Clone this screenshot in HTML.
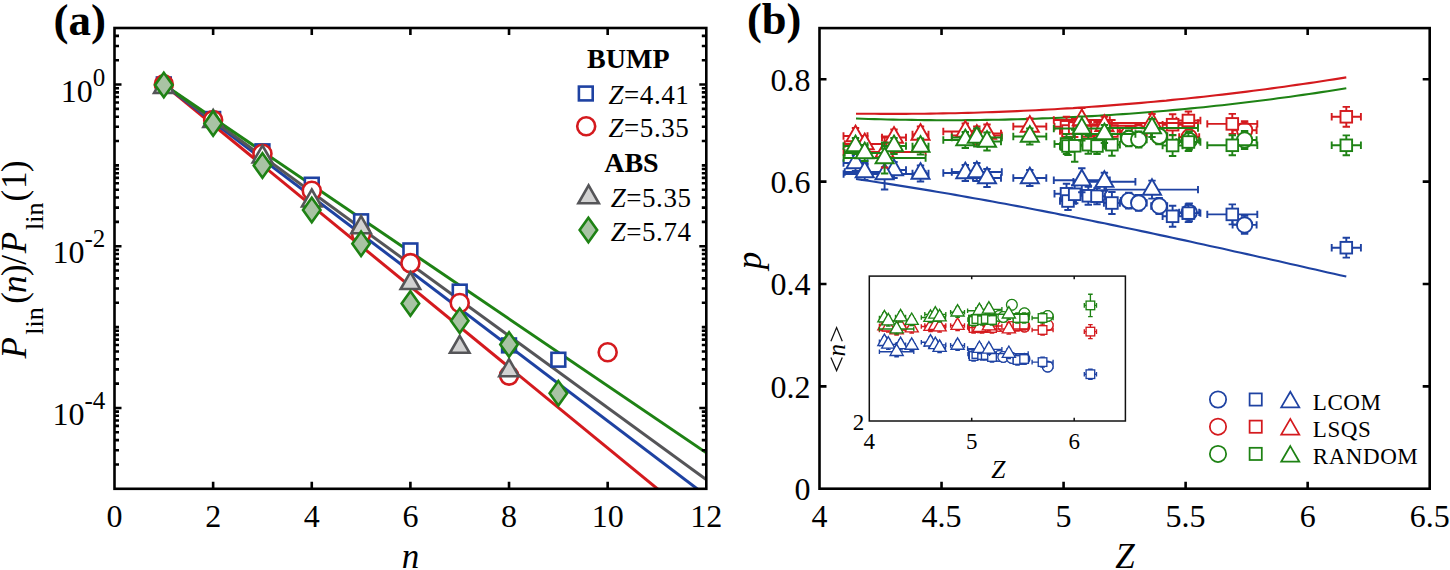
<!DOCTYPE html>
<html><head><meta charset="utf-8"><style>
html,body{margin:0;padding:0;background:#fff;width:1450px;height:570px;overflow:hidden;}
svg{display:block;}
text{font-family:"Liberation Serif", serif;}
</style></head><body>
<svg width="1450" height="570" viewBox="0 0 1450 570" font-family="'Liberation Serif', serif">
<rect width="1450" height="570" fill="#fff"/>
<defs>
<clipPath id="ca"><rect x="114.5" y="28.0" width="591.8" height="460.8"/></clipPath>
<clipPath id="cb"><rect x="819.5" y="28.1" width="610.2" height="460.59999999999997"/></clipPath>
</defs>
<g clip-path="url(#ca)" stroke-width="3" fill="none" stroke-linecap="butt">
<line x1="163.8" y1="84.5" x2="756.2" y2="569.7" stroke="#d41a1e"/>
<line x1="163.8" y1="84.5" x2="803.9" y2="569.7" stroke="#1e42a2"/>
<line x1="163.8" y1="84.5" x2="814.8" y2="558.6" stroke="#555558"/>
<line x1="163.8" y1="84.5" x2="814.8" y2="526.5" stroke="#1e8214"/>
</g>
<rect x="156.92" y="77.50" width="13.80" height="13.80" fill="#fff" stroke="#1e42a2" stroke-width="2.6"/>
<rect x="206.23" y="112.10" width="13.80" height="13.80" fill="#fff" stroke="#1e42a2" stroke-width="2.6"/>
<rect x="255.55" y="144.40" width="13.80" height="13.80" fill="#fff" stroke="#1e42a2" stroke-width="2.6"/>
<rect x="304.87" y="177.80" width="13.80" height="13.80" fill="#fff" stroke="#1e42a2" stroke-width="2.6"/>
<rect x="354.18" y="214.40" width="13.80" height="13.80" fill="#fff" stroke="#1e42a2" stroke-width="2.6"/>
<rect x="403.50" y="243.50" width="13.80" height="13.80" fill="#fff" stroke="#1e42a2" stroke-width="2.6"/>
<rect x="452.82" y="284.70" width="13.80" height="13.80" fill="#fff" stroke="#1e42a2" stroke-width="2.6"/>
<rect x="502.13" y="338.50" width="13.80" height="13.80" fill="#fff" stroke="#1e42a2" stroke-width="2.6"/>
<rect x="551.45" y="352.80" width="13.80" height="13.80" fill="#fff" stroke="#1e42a2" stroke-width="2.6"/>
<circle cx="163.82" cy="84.40" r="9.00" fill="#fff" stroke="#d41a1e" stroke-width="2.6"/>
<circle cx="213.13" cy="120.00" r="9.00" fill="#fff" stroke="#d41a1e" stroke-width="2.6"/>
<circle cx="262.45" cy="153.70" r="9.00" fill="#fff" stroke="#d41a1e" stroke-width="2.6"/>
<circle cx="311.77" cy="190.70" r="9.00" fill="#fff" stroke="#d41a1e" stroke-width="2.6"/>
<circle cx="361.08" cy="234.00" r="9.00" fill="#fff" stroke="#d41a1e" stroke-width="2.6"/>
<circle cx="410.40" cy="263.10" r="9.00" fill="#fff" stroke="#d41a1e" stroke-width="2.6"/>
<circle cx="459.72" cy="303.00" r="9.00" fill="#fff" stroke="#d41a1e" stroke-width="2.6"/>
<circle cx="509.03" cy="375.60" r="9.00" fill="#fff" stroke="#d41a1e" stroke-width="2.6"/>
<circle cx="607.67" cy="352.20" r="9.00" fill="#fff" stroke="#d41a1e" stroke-width="2.6"/>
<path d="M163.82,75.90L173.57,92.90L154.07,92.90Z" fill="#fbfbfb" stroke="#555558" stroke-width="2.6" stroke-linejoin="miter"/>
<path d="M213.13,110.00L222.88,127.00L203.38,127.00Z" fill="#fbfbfb" stroke="#555558" stroke-width="2.6" stroke-linejoin="miter"/>
<path d="M262.45,145.50L272.20,162.50L252.70,162.50Z" fill="#fbfbfb" stroke="#555558" stroke-width="2.6" stroke-linejoin="miter"/>
<path d="M311.77,189.50L321.52,206.50L302.02,206.50Z" fill="#fbfbfb" stroke="#555558" stroke-width="2.6" stroke-linejoin="miter"/>
<path d="M361.08,216.20L370.83,233.20L351.33,233.20Z" fill="#d2d2d2" stroke="#555558" stroke-width="2.6" stroke-linejoin="miter"/>
<path d="M410.40,272.00L420.15,289.00L400.65,289.00Z" fill="#d2d2d2" stroke="#555558" stroke-width="2.6" stroke-linejoin="miter"/>
<path d="M459.72,335.80L469.47,352.80L449.97,352.80Z" fill="#d2d2d2" stroke="#555558" stroke-width="2.6" stroke-linejoin="miter"/>
<path d="M509.03,359.20L518.78,376.20L499.28,376.20Z" fill="#d2d2d2" stroke="#555558" stroke-width="2.6" stroke-linejoin="miter"/>
<path d="M163.82,72.65L172.57,84.90L163.82,97.15L155.07,84.90Z" fill="#a9c3a4" stroke="#1e8214" stroke-width="2.6" stroke-linejoin="miter"/>
<path d="M213.13,111.25L221.88,123.50L213.13,135.75L204.38,123.50Z" fill="#a9c3a4" stroke="#1e8214" stroke-width="2.6" stroke-linejoin="miter"/>
<path d="M262.45,153.25L271.20,165.50L262.45,177.75L253.70,165.50Z" fill="#a9c3a4" stroke="#1e8214" stroke-width="2.6" stroke-linejoin="miter"/>
<path d="M311.77,197.75L320.52,210.00L311.77,222.25L303.02,210.00Z" fill="#a9c3a4" stroke="#1e8214" stroke-width="2.6" stroke-linejoin="miter"/>
<path d="M361.08,231.45L369.83,243.70L361.08,255.95L352.33,243.70Z" fill="#a9c3a4" stroke="#1e8214" stroke-width="2.6" stroke-linejoin="miter"/>
<path d="M410.40,291.35L419.15,303.60L410.40,315.85L401.65,303.60Z" fill="#a9c3a4" stroke="#1e8214" stroke-width="2.6" stroke-linejoin="miter"/>
<path d="M459.72,308.45L468.47,320.70L459.72,332.95L450.97,320.70Z" fill="#a9c3a4" stroke="#1e8214" stroke-width="2.6" stroke-linejoin="miter"/>
<path d="M509.03,332.25L517.78,344.50L509.03,356.75L500.28,344.50Z" fill="#a9c3a4" stroke="#1e8214" stroke-width="2.6" stroke-linejoin="miter"/>
<path d="M558.35,381.05L567.10,393.30L558.35,405.55L549.60,393.30Z" fill="#a9c3a4" stroke="#1e8214" stroke-width="2.6" stroke-linejoin="miter"/>
<text x="628.3" y="68.1" font-size="28" font-weight="bold" text-anchor="middle">BUMP</text>
<text x="631.4" y="172.2" font-size="28" font-weight="bold" text-anchor="middle">ABS</text>
<rect x="578.90" y="86.60" width="13.80" height="13.80" fill="#fff" stroke="#1e42a2" stroke-width="2.6"/>
<circle cx="586.20" cy="126.30" r="9.00" fill="#fff" stroke="#d41a1e" stroke-width="2.6"/>
<path d="M588.60,185.38L598.84,203.23L578.36,203.23Z" fill="#d2d2d2" stroke="#555558" stroke-width="2.6" stroke-linejoin="miter"/>
<path d="M588.40,217.75L597.15,230.00L588.40,242.25L579.65,230.00Z" fill="#a9c3a4" stroke="#1e8214" stroke-width="2.6" stroke-linejoin="miter"/>
<text x="608.5" y="103.5" font-size="27" letter-spacing="0.55"><tspan font-style="italic">Z</tspan>=4.41</text>
<text x="608.5" y="137.0" font-size="27" letter-spacing="0.55"><tspan font-style="italic">Z</tspan>=5.35</text>
<text x="610.7" y="207.3" font-size="27" letter-spacing="0.55"><tspan font-style="italic">Z</tspan>=5.35</text>
<text x="610.7" y="241.1" font-size="27" letter-spacing="0.55"><tspan font-style="italic">Z</tspan>=5.74</text>
<g stroke="#000" stroke-width="2.6" fill="none">
<rect x="114.5" y="28.0" width="591.8" height="460.8" stroke-linejoin="miter"/>
<path d="M213.13,488.8v-7.0M213.13,28.0v7.0M311.77,488.8v-7.0M311.77,28.0v7.0M410.40,488.8v-7.0M410.40,28.0v7.0M509.03,488.8v-7.0M509.03,28.0v7.0M607.67,488.8v-7.0M607.67,28.0v7.0M114.5,464.46h4.5M706.3,464.46h-4.5M114.5,450.22h4.5M706.3,450.22h-4.5M114.5,440.12h4.5M706.3,440.12h-4.5M114.5,432.28h4.5M706.3,432.28h-4.5M114.5,425.88h4.5M706.3,425.88h-4.5M114.5,420.47h4.5M706.3,420.47h-4.5M114.5,415.78h4.5M706.3,415.78h-4.5M114.5,411.64h4.5M706.3,411.64h-4.5M114.5,407.94h7.0M706.3,407.94h-7.0M114.5,383.60h4.5M706.3,383.60h-4.5M114.5,369.36h4.5M706.3,369.36h-4.5M114.5,359.26h4.5M706.3,359.26h-4.5M114.5,351.43h4.5M706.3,351.43h-4.5M114.5,345.02h4.5M706.3,345.02h-4.5M114.5,339.61h4.5M706.3,339.61h-4.5M114.5,334.92h4.5M706.3,334.92h-4.5M114.5,330.79h4.5M706.3,330.79h-4.5M114.5,327.09h4.5M706.3,327.09h-4.5M114.5,302.75h4.5M706.3,302.75h-4.5M114.5,288.51h4.5M706.3,288.51h-4.5M114.5,278.41h4.5M706.3,278.41h-4.5M114.5,270.57h4.5M706.3,270.57h-4.5M114.5,264.17h4.5M706.3,264.17h-4.5M114.5,258.75h4.5M706.3,258.75h-4.5M114.5,254.07h4.5M706.3,254.07h-4.5M114.5,249.93h4.5M706.3,249.93h-4.5M114.5,246.23h7.0M706.3,246.23h-7.0M114.5,221.89h4.5M706.3,221.89h-4.5M114.5,207.65h4.5M706.3,207.65h-4.5M114.5,197.55h4.5M706.3,197.55h-4.5M114.5,189.71h4.5M706.3,189.71h-4.5M114.5,183.31h4.5M706.3,183.31h-4.5M114.5,177.90h4.5M706.3,177.90h-4.5M114.5,173.21h4.5M706.3,173.21h-4.5M114.5,169.07h4.5M706.3,169.07h-4.5M114.5,165.37h4.5M706.3,165.37h-4.5M114.5,141.03h4.5M706.3,141.03h-4.5M114.5,126.79h4.5M706.3,126.79h-4.5M114.5,116.69h4.5M706.3,116.69h-4.5M114.5,108.86h4.5M706.3,108.86h-4.5M114.5,102.45h4.5M706.3,102.45h-4.5M114.5,97.04h4.5M706.3,97.04h-4.5M114.5,92.35h4.5M706.3,92.35h-4.5M114.5,88.22h4.5M706.3,88.22h-4.5M114.5,84.52h7.0M706.3,84.52h-7.0M114.5,60.18h4.5M706.3,60.18h-4.5M114.5,45.94h4.5M706.3,45.94h-4.5M114.5,35.84h4.5M706.3,35.84h-4.5"/>
</g>
<text x="114.50" y="527.4" font-size="32" text-anchor="middle">0</text>
<text x="213.13" y="527.4" font-size="32" text-anchor="middle">2</text>
<text x="311.77" y="527.4" font-size="32" text-anchor="middle">4</text>
<text x="410.40" y="527.4" font-size="32" text-anchor="middle">6</text>
<text x="509.03" y="527.4" font-size="32" text-anchor="middle">8</text>
<text x="607.67" y="527.4" font-size="32" text-anchor="middle">10</text>
<text x="706.30" y="527.4" font-size="32" text-anchor="middle">12</text>
<text x="105.3" y="101.5" font-size="32" text-anchor="end">10<tspan font-size="25" dy="-16">0</tspan></text>
<text x="105.3" y="263.2" font-size="32" text-anchor="end">10<tspan font-size="25" dy="-16">-2</tspan></text>
<text x="105.3" y="424.9" font-size="32" text-anchor="end">10<tspan font-size="25" dy="-16">-4</tspan></text>
<text x="410.4" y="567.6" font-size="35" font-style="italic" text-anchor="middle">n</text>
<text transform="translate(26,0) rotate(-90)"><tspan x="-358.6" y="0" font-size="35" font-style="italic">P</tspan><tspan x="-334.7" y="16.6" font-size="26">lin</tspan><tspan x="-303.8" y="0" font-size="35">(</tspan><tspan x="-293.1" y="0" font-size="35" font-style="italic">n</tspan><tspan x="-275.9" y="0" font-size="35">)</tspan><tspan x="-264.8" y="0" font-size="35">/</tspan><tspan x="-253.2" y="0" font-size="35" font-style="italic">P</tspan><tspan x="-230.0" y="16.6" font-size="26">lin</tspan><tspan x="-201.4" y="0" font-size="35">(</tspan><tspan x="-189.0" y="0" font-size="35">1</tspan><tspan x="-172.1" y="0" font-size="35">)</tspan></text>
<text x="53.6" y="34.6" font-size="45" font-weight="bold">(a)</text>
<text x="747" y="34.3" font-size="44.5" font-weight="bold">(b)</text>
<g stroke="#000" stroke-width="2.6" fill="none">
<rect x="819.5" y="28.1" width="610.2" height="460.59999999999997" stroke-linejoin="miter"/>
<path d="M941.54,488.7v-7.0M941.54,28.1v7.0M1063.58,488.7v-7.0M1063.58,28.1v7.0M1185.62,488.7v-7.0M1185.62,28.1v7.0M1307.66,488.7v-7.0M1307.66,28.1v7.0M819.5,386.34h7.0M1429.7,386.34h-7.0M819.5,283.99h7.0M1429.7,283.99h-7.0M819.5,181.63h7.0M1429.7,181.63h-7.0M819.5,79.28h7.0M1429.7,79.28h-7.0"/>
</g>
<text x="819.50" y="527.4" font-size="32" text-anchor="middle">4</text>
<text x="941.54" y="527.4" font-size="32" text-anchor="middle">4.5</text>
<text x="1063.58" y="527.4" font-size="32" text-anchor="middle">5</text>
<text x="1185.62" y="527.4" font-size="32" text-anchor="middle">5.5</text>
<text x="1307.66" y="527.4" font-size="32" text-anchor="middle">6</text>
<text x="1429.70" y="527.4" font-size="32" text-anchor="middle">6.5</text>
<text x="810.5" y="500.0" font-size="32" text-anchor="end">0</text>
<text x="810.5" y="397.6" font-size="32" text-anchor="end">0.2</text>
<text x="810.5" y="295.3" font-size="32" text-anchor="end">0.4</text>
<text x="810.5" y="192.9" font-size="32" text-anchor="end">0.6</text>
<text x="810.5" y="90.6" font-size="32" text-anchor="end">0.8</text>
<text x="1125" y="567.6" font-size="35" font-style="italic" text-anchor="middle">Z</text>
<text transform="translate(761,260.5) rotate(-90)" font-size="35" font-style="italic" text-anchor="middle">p</text>
<g clip-path="url(#cb)">
<path d="M856.0,113.7L862.2,113.7L868.4,113.8L874.6,113.8L880.8,113.9L887.0,113.9L893.2,113.9L899.4,113.9L905.7,113.9L911.9,113.8L918.1,113.8L924.3,113.7L930.5,113.6L936.7,113.5L942.9,113.4L949.1,113.3L955.3,113.2L961.5,113.0L967.7,112.9L973.9,112.7L980.1,112.5L986.3,112.3L992.5,112.1L998.7,111.9L1005.0,111.6L1011.2,111.4L1017.4,111.1L1023.6,110.8L1029.8,110.5L1036.0,110.2L1042.2,109.9L1048.4,109.5L1054.6,109.2L1060.8,108.8L1067.0,108.4L1073.2,108.1L1079.4,107.6L1085.6,107.2L1091.8,106.8L1098.0,106.4L1104.3,105.9L1110.5,105.4L1116.7,104.9L1122.9,104.4L1129.1,103.9L1135.3,103.4L1141.5,102.9L1147.7,102.3L1153.9,101.7L1160.1,101.1L1166.3,100.6L1172.5,99.9L1178.7,99.3L1184.9,98.7L1191.1,98.0L1197.3,97.4L1203.6,96.7L1209.8,96.0L1216.0,95.3L1222.2,94.6L1228.4,93.9L1234.6,93.1L1240.8,92.4L1247.0,91.6L1253.2,90.8L1259.4,90.0L1265.6,89.2L1271.8,88.4L1278.0,87.5L1284.2,86.7L1290.4,85.8L1296.6,84.9L1302.9,84.0L1309.1,83.1L1315.3,82.2L1321.5,81.3L1327.7,80.3L1333.9,79.4L1340.1,78.4L1346.3,77.4" fill="none" stroke="#d41a1e" stroke-width="2.1"/>
<path d="M856.0,118.5L862.2,118.8L868.4,119.0L874.6,119.1L880.8,119.3L887.0,119.5L893.2,119.6L899.4,119.7L905.7,119.8L911.9,119.9L918.1,120.0L924.3,120.1L930.5,120.1L936.7,120.2L942.9,120.2L949.1,120.2L955.3,120.2L961.5,120.2L967.7,120.1L973.9,120.1L980.1,120.0L986.3,119.9L992.5,119.8L998.7,119.7L1005.0,119.6L1011.2,119.4L1017.4,119.3L1023.6,119.1L1029.8,118.9L1036.0,118.7L1042.2,118.4L1048.4,118.2L1054.6,118.0L1060.8,117.7L1067.0,117.4L1073.2,117.1L1079.4,116.8L1085.6,116.4L1091.8,116.1L1098.0,115.7L1104.3,115.4L1110.5,115.0L1116.7,114.5L1122.9,114.1L1129.1,113.7L1135.3,113.2L1141.5,112.7L1147.7,112.3L1153.9,111.8L1160.1,111.2L1166.3,110.7L1172.5,110.1L1178.7,109.6L1184.9,109.0L1191.1,108.4L1197.3,107.8L1203.6,107.2L1209.8,106.5L1216.0,105.8L1222.2,105.2L1228.4,104.5L1234.6,103.8L1240.8,103.0L1247.0,102.3L1253.2,101.5L1259.4,100.8L1265.6,100.0L1271.8,99.2L1278.0,98.3L1284.2,97.5L1290.4,96.7L1296.6,95.8L1302.9,94.9L1309.1,94.0L1315.3,93.1L1321.5,92.1L1327.7,91.2L1333.9,90.2L1340.1,89.3L1346.3,88.3" fill="none" stroke="#1e8214" stroke-width="2.1"/>
<path d="M856.0,179.0L862.2,179.9L868.4,180.8L874.6,181.7L880.8,182.7L887.0,183.6L893.2,184.6L899.4,185.6L905.7,186.6L911.9,187.6L918.1,188.6L924.3,189.6L930.5,190.6L936.7,191.7L942.9,192.7L949.1,193.8L955.3,194.9L961.5,196.0L967.7,197.1L973.9,198.2L980.1,199.3L986.3,200.4L992.5,201.5L998.7,202.7L1005.0,203.8L1011.2,205.0L1017.4,206.1L1023.6,207.3L1029.8,208.5L1036.0,209.7L1042.2,210.9L1048.4,212.1L1054.6,213.3L1060.8,214.6L1067.0,215.8L1073.2,217.0L1079.4,218.3L1085.6,219.5L1091.8,220.8L1098.0,222.1L1104.3,223.3L1110.5,224.6L1116.7,225.9L1122.9,227.2L1129.1,228.5L1135.3,229.8L1141.5,231.1L1147.7,232.4L1153.9,233.8L1160.1,235.1L1166.3,236.4L1172.5,237.8L1178.7,239.1L1184.9,240.4L1191.1,241.8L1197.3,243.2L1203.6,244.5L1209.8,245.9L1216.0,247.2L1222.2,248.6L1228.4,250.0L1234.6,251.4L1240.8,252.8L1247.0,254.1L1253.2,255.5L1259.4,256.9L1265.6,258.3L1271.8,259.7L1278.0,261.1L1284.2,262.5L1290.4,263.9L1296.6,265.3L1302.9,266.7L1309.1,268.2L1315.3,269.6L1321.5,271.0L1327.7,272.4L1333.9,273.8L1340.1,275.2L1346.3,276.6" fill="none" stroke="#1e42a2" stroke-width="2.1"/>
<path d="M1120.8,200.6H1136.8M1120.8,196.9v7.4M1136.8,196.9v7.4M1128.8,192.6V208.6M1125.1,192.6h7.4M1125.1,208.6h7.4" fill="none" stroke="#1e42a2" stroke-width="1.9"/>
<path d="M1130.7,202.9H1146.7M1130.7,199.2v7.4M1146.7,199.2v7.4M1138.7,194.9V210.9M1135.0,194.9h7.4M1135.0,210.9h7.4" fill="none" stroke="#1e42a2" stroke-width="1.9"/>
<path d="M1151.2,206.0H1167.2M1151.2,202.3v7.4M1167.2,202.3v7.4M1159.2,198.0V214.0M1155.5,198.0h7.4M1155.5,214.0h7.4" fill="none" stroke="#1e42a2" stroke-width="1.9"/>
<path d="M1179.2,212.4H1199.2M1179.2,208.7v7.4M1199.2,208.7v7.4M1189.2,203.4V221.4M1185.5,203.4h7.4M1185.5,221.4h7.4" fill="none" stroke="#1e42a2" stroke-width="1.9"/>
<path d="M1232.6,224.9H1256.6M1232.6,221.2v7.4M1256.6,221.2v7.4M1244.6,215.9V233.9M1240.9,215.9h7.4M1240.9,233.9h7.4" fill="none" stroke="#1e42a2" stroke-width="1.9"/>
<circle cx="1128.80" cy="200.60" r="7.7" fill="#fff" stroke="#1e42a2" stroke-width="1.9"/>
<circle cx="1138.70" cy="202.90" r="7.7" fill="#fff" stroke="#1e42a2" stroke-width="1.9"/>
<circle cx="1159.20" cy="206.00" r="7.7" fill="#fff" stroke="#1e42a2" stroke-width="1.9"/>
<circle cx="1189.20" cy="212.40" r="7.7" fill="#fff" stroke="#1e42a2" stroke-width="1.9"/>
<circle cx="1244.60" cy="224.90" r="7.7" fill="#fff" stroke="#1e42a2" stroke-width="1.9"/>
<path d="M1054.5,193.8H1078.5M1054.5,190.1v7.4M1078.5,190.1v7.4M1066.5,183.8V203.8M1062.8,183.8h7.4M1062.8,203.8h7.4" fill="none" stroke="#1e42a2" stroke-width="1.9"/>
<path d="M1060.0,201.0H1076.0M1060.0,197.3v7.4M1076.0,197.3v7.4M1068.0,192.0V210.0M1064.3,192.0h7.4M1064.3,210.0h7.4" fill="none" stroke="#1e42a2" stroke-width="1.9"/>
<path d="M1064.7,194.3H1084.7M1064.7,190.6v7.4M1084.7,190.6v7.4M1074.7,185.3V203.3M1071.0,185.3h7.4M1071.0,203.3h7.4" fill="none" stroke="#1e42a2" stroke-width="1.9"/>
<path d="M1080.3,195.8H1096.3M1080.3,192.1v7.4M1096.3,192.1v7.4M1088.3,186.8V204.8M1084.6,186.8h7.4M1084.6,204.8h7.4" fill="none" stroke="#1e42a2" stroke-width="1.9"/>
<path d="M1089.0,196.2H1105.0M1089.0,192.5v7.4M1105.0,192.5v7.4M1097.0,188.2V204.2M1093.3,188.2h7.4M1093.3,204.2h7.4" fill="none" stroke="#1e42a2" stroke-width="1.9"/>
<path d="M1103.9,203.0H1119.9M1103.9,199.3v7.4M1119.9,199.3v7.4M1111.9,192.0V214.0M1108.2,192.0h7.4M1108.2,214.0h7.4" fill="none" stroke="#1e42a2" stroke-width="1.9"/>
<path d="M1162.6,216.3H1182.6M1162.6,212.6v7.4M1182.6,212.6v7.4M1172.6,205.8V226.8M1168.9,205.8h7.4M1168.9,226.8h7.4" fill="none" stroke="#1e42a2" stroke-width="1.9"/>
<path d="M1176.4,213.1H1200.4M1176.4,209.4v7.4M1200.4,209.4v7.4M1188.4,204.1V222.1M1184.7,204.1h7.4M1184.7,222.1h7.4" fill="none" stroke="#1e42a2" stroke-width="1.9"/>
<path d="M1207.3,214.4H1257.3M1207.3,210.7v7.4M1257.3,210.7v7.4M1232.3,204.4V224.4M1228.6,204.4h7.4M1228.6,224.4h7.4" fill="none" stroke="#1e42a2" stroke-width="1.9"/>
<path d="M1331.7,247.7H1360.9M1331.7,244.0v7.4M1360.9,244.0v7.4M1346.3,237.8V257.6M1342.6,237.8h7.4M1342.6,257.6h7.4" fill="none" stroke="#1e42a2" stroke-width="1.9"/>
<rect x="1060.70" y="188.00" width="11.6" height="11.6" fill="#fff" stroke="#1e42a2" stroke-width="1.9"/>
<rect x="1062.20" y="195.20" width="11.6" height="11.6" fill="#fff" stroke="#1e42a2" stroke-width="1.9"/>
<rect x="1068.90" y="188.50" width="11.6" height="11.6" fill="#fff" stroke="#1e42a2" stroke-width="1.9"/>
<rect x="1082.50" y="190.00" width="11.6" height="11.6" fill="#fff" stroke="#1e42a2" stroke-width="1.9"/>
<rect x="1091.20" y="190.40" width="11.6" height="11.6" fill="#fff" stroke="#1e42a2" stroke-width="1.9"/>
<rect x="1106.10" y="197.20" width="11.6" height="11.6" fill="#fff" stroke="#1e42a2" stroke-width="1.9"/>
<rect x="1166.80" y="210.50" width="11.6" height="11.6" fill="#fff" stroke="#1e42a2" stroke-width="1.9"/>
<rect x="1182.60" y="207.30" width="11.6" height="11.6" fill="#fff" stroke="#1e42a2" stroke-width="1.9"/>
<rect x="1226.50" y="208.60" width="11.6" height="11.6" fill="#fff" stroke="#1e42a2" stroke-width="1.9"/>
<rect x="1340.50" y="241.90" width="11.6" height="11.6" fill="#fff" stroke="#1e42a2" stroke-width="1.9"/>
<path d="M843.5,163.0H867.5M843.5,159.3v7.4M867.5,159.3v7.4M855.5,155.0V171.0M851.8,155.0h7.4M851.8,171.0h7.4" fill="none" stroke="#1e42a2" stroke-width="1.9"/>
<path d="M844.7,172.0H884.7M844.7,168.3v7.4M884.7,168.3v7.4M864.7,164.0V180.0M861.0,164.0h7.4M861.0,180.0h7.4" fill="none" stroke="#1e42a2" stroke-width="1.9"/>
<path d="M882.0,170.0H906.0M882.0,166.3v7.4M906.0,166.3v7.4M894.0,162.0V178.0M890.3,162.0h7.4M890.3,178.0h7.4" fill="none" stroke="#1e42a2" stroke-width="1.9"/>
<path d="M843.6,174.0H925.6M843.6,170.3v7.4M925.6,170.3v7.4M884.6,158.5V189.5M880.9,158.5h7.4M880.9,189.5h7.4" fill="none" stroke="#1e42a2" stroke-width="1.9"/>
<path d="M912.5,173.5H928.5M912.5,169.8v7.4M928.5,169.8v7.4M920.5,165.5V181.5M916.8,165.5h7.4M916.8,181.5h7.4" fill="none" stroke="#1e42a2" stroke-width="1.9"/>
<path d="M943.3,173.0H987.3M943.3,169.3v7.4M987.3,169.3v7.4M965.3,165.0V181.0M961.6,165.0h7.4M961.6,181.0h7.4" fill="none" stroke="#1e42a2" stroke-width="1.9"/>
<path d="M951.8,172.0H1001.8M951.8,168.3v7.4M1001.8,168.3v7.4M976.8,163.0V181.0M973.1,163.0h7.4M973.1,181.0h7.4" fill="none" stroke="#1e42a2" stroke-width="1.9"/>
<path d="M973.0,178.0H1001.0M973.0,174.3v7.4M1001.0,174.3v7.4M987.0,169.0V187.0M983.3,169.0h7.4M983.3,187.0h7.4" fill="none" stroke="#1e42a2" stroke-width="1.9"/>
<path d="M1013.3,178.0H1046.3M1013.3,174.3v7.4M1046.3,174.3v7.4M1029.8,170.0V186.0M1026.1,170.0h7.4M1026.1,186.0h7.4" fill="none" stroke="#1e42a2" stroke-width="1.9"/>
<path d="M1053.8,180.2H1109.8M1053.8,176.5v7.4M1109.8,176.5v7.4M1081.8,168.2V192.2M1078.1,168.2h7.4M1078.1,192.2h7.4" fill="none" stroke="#1e42a2" stroke-width="1.9"/>
<path d="M1073.4,181.7H1135.4M1073.4,178.0v7.4M1135.4,178.0v7.4M1104.4,172.7V190.7M1100.7,172.7h7.4M1100.7,190.7h7.4" fill="none" stroke="#1e42a2" stroke-width="1.9"/>
<path d="M1106.0,189.6H1198.0M1106.0,185.9v7.4M1198.0,185.9v7.4M1152.0,180.6V198.6M1148.3,180.6h7.4M1148.3,198.6h7.4" fill="none" stroke="#1e42a2" stroke-width="1.9"/>
<path d="M855.50,152.55L864.55,168.22L846.45,168.22Z" fill="#fff" stroke="#1e42a2" stroke-width="1.9"/>
<path d="M864.70,161.55L873.75,177.22L855.65,177.22Z" fill="#fff" stroke="#1e42a2" stroke-width="1.9"/>
<path d="M894.00,159.55L903.05,175.22L884.95,175.22Z" fill="#fff" stroke="#1e42a2" stroke-width="1.9"/>
<path d="M884.60,163.55L893.65,179.22L875.55,179.22Z" fill="#fff" stroke="#1e42a2" stroke-width="1.9"/>
<path d="M920.50,163.05L929.55,178.72L911.45,178.72Z" fill="#fff" stroke="#1e42a2" stroke-width="1.9"/>
<path d="M965.30,162.55L974.35,178.22L956.25,178.22Z" fill="#fff" stroke="#1e42a2" stroke-width="1.9"/>
<path d="M976.80,161.55L985.85,177.22L967.75,177.22Z" fill="#fff" stroke="#1e42a2" stroke-width="1.9"/>
<path d="M987.00,167.55L996.05,183.22L977.95,183.22Z" fill="#fff" stroke="#1e42a2" stroke-width="1.9"/>
<path d="M1029.80,167.55L1038.85,183.22L1020.75,183.22Z" fill="#fff" stroke="#1e42a2" stroke-width="1.9"/>
<path d="M1081.80,169.75L1090.85,185.42L1072.75,185.42Z" fill="#fff" stroke="#1e42a2" stroke-width="1.9"/>
<path d="M1104.40,171.25L1113.45,186.92L1095.35,186.92Z" fill="#fff" stroke="#1e42a2" stroke-width="1.9"/>
<path d="M1152.00,179.15L1161.05,194.82L1142.95,194.82Z" fill="#fff" stroke="#1e42a2" stroke-width="1.9"/>
<path d="M1120.8,134.0H1136.8M1120.8,130.3v7.4M1136.8,130.3v7.4M1128.8,126.0V142.0M1125.1,126.0h7.4M1125.1,142.0h7.4" fill="none" stroke="#d41a1e" stroke-width="1.9"/>
<path d="M1130.7,133.0H1146.7M1130.7,129.3v7.4M1146.7,129.3v7.4M1138.7,125.0V141.0M1135.0,125.0h7.4M1135.0,141.0h7.4" fill="none" stroke="#d41a1e" stroke-width="1.9"/>
<path d="M1151.2,136.0H1167.2M1151.2,132.3v7.4M1167.2,132.3v7.4M1159.2,128.0V144.0M1155.5,128.0h7.4M1155.5,144.0h7.4" fill="none" stroke="#d41a1e" stroke-width="1.9"/>
<path d="M1179.2,137.0H1199.2M1179.2,133.3v7.4M1199.2,133.3v7.4M1189.2,128.0V146.0M1185.5,128.0h7.4M1185.5,146.0h7.4" fill="none" stroke="#d41a1e" stroke-width="1.9"/>
<path d="M1232.6,130.2H1256.6M1232.6,126.5v7.4M1256.6,126.5v7.4M1244.6,121.2V139.2M1240.9,121.2h7.4M1240.9,139.2h7.4" fill="none" stroke="#d41a1e" stroke-width="1.9"/>
<circle cx="1128.80" cy="134.00" r="7.7" fill="#fff" stroke="#d41a1e" stroke-width="1.9"/>
<circle cx="1138.70" cy="133.00" r="7.7" fill="#fff" stroke="#d41a1e" stroke-width="1.9"/>
<circle cx="1159.20" cy="136.00" r="7.7" fill="#fff" stroke="#d41a1e" stroke-width="1.9"/>
<circle cx="1189.20" cy="137.00" r="7.7" fill="#fff" stroke="#d41a1e" stroke-width="1.9"/>
<circle cx="1244.60" cy="130.20" r="7.7" fill="#fff" stroke="#d41a1e" stroke-width="1.9"/>
<path d="M1054.5,126.8H1078.5M1054.5,123.1v7.4M1078.5,123.1v7.4M1066.5,116.8V136.8M1062.8,116.8h7.4M1062.8,136.8h7.4" fill="none" stroke="#d41a1e" stroke-width="1.9"/>
<path d="M1060.0,131.0H1076.0M1060.0,127.3v7.4M1076.0,127.3v7.4M1068.0,122.0V140.0M1064.3,122.0h7.4M1064.3,140.0h7.4" fill="none" stroke="#d41a1e" stroke-width="1.9"/>
<path d="M1064.7,128.0H1084.7M1064.7,124.3v7.4M1084.7,124.3v7.4M1074.7,119.0V137.0M1071.0,119.0h7.4M1071.0,137.0h7.4" fill="none" stroke="#d41a1e" stroke-width="1.9"/>
<path d="M1080.3,131.0H1096.3M1080.3,127.3v7.4M1096.3,127.3v7.4M1088.3,122.0V140.0M1084.6,122.0h7.4M1084.6,140.0h7.4" fill="none" stroke="#d41a1e" stroke-width="1.9"/>
<path d="M1089.0,130.0H1105.0M1089.0,126.3v7.4M1105.0,126.3v7.4M1097.0,122.0V138.0M1093.3,122.0h7.4M1093.3,138.0h7.4" fill="none" stroke="#d41a1e" stroke-width="1.9"/>
<path d="M1103.9,131.0H1119.9M1103.9,127.3v7.4M1119.9,127.3v7.4M1111.9,120.0V142.0M1108.2,120.0h7.4M1108.2,142.0h7.4" fill="none" stroke="#d41a1e" stroke-width="1.9"/>
<path d="M1162.6,124.7H1182.6M1162.6,121.0v7.4M1182.6,121.0v7.4M1172.6,114.2V135.2M1168.9,114.2h7.4M1168.9,135.2h7.4" fill="none" stroke="#d41a1e" stroke-width="1.9"/>
<path d="M1176.4,120.5H1200.4M1176.4,116.8v7.4M1200.4,116.8v7.4M1188.4,111.5V129.5M1184.7,111.5h7.4M1184.7,129.5h7.4" fill="none" stroke="#d41a1e" stroke-width="1.9"/>
<path d="M1207.3,123.9H1257.3M1207.3,120.2v7.4M1257.3,120.2v7.4M1232.3,113.9V133.9M1228.6,113.9h7.4M1228.6,133.9h7.4" fill="none" stroke="#d41a1e" stroke-width="1.9"/>
<path d="M1331.7,116.8H1360.9M1331.7,113.1v7.4M1360.9,113.1v7.4M1346.3,106.9V126.7M1342.6,106.9h7.4M1342.6,126.7h7.4" fill="none" stroke="#d41a1e" stroke-width="1.9"/>
<rect x="1060.70" y="121.00" width="11.6" height="11.6" fill="#fff" stroke="#d41a1e" stroke-width="1.9"/>
<rect x="1062.20" y="125.20" width="11.6" height="11.6" fill="#fff" stroke="#d41a1e" stroke-width="1.9"/>
<rect x="1068.90" y="122.20" width="11.6" height="11.6" fill="#fff" stroke="#d41a1e" stroke-width="1.9"/>
<rect x="1082.50" y="125.20" width="11.6" height="11.6" fill="#fff" stroke="#d41a1e" stroke-width="1.9"/>
<rect x="1091.20" y="124.20" width="11.6" height="11.6" fill="#fff" stroke="#d41a1e" stroke-width="1.9"/>
<rect x="1106.10" y="125.20" width="11.6" height="11.6" fill="#fff" stroke="#d41a1e" stroke-width="1.9"/>
<rect x="1166.80" y="118.90" width="11.6" height="11.6" fill="#fff" stroke="#d41a1e" stroke-width="1.9"/>
<rect x="1182.60" y="114.70" width="11.6" height="11.6" fill="#fff" stroke="#d41a1e" stroke-width="1.9"/>
<rect x="1226.50" y="118.10" width="11.6" height="11.6" fill="#fff" stroke="#d41a1e" stroke-width="1.9"/>
<rect x="1340.50" y="111.00" width="11.6" height="11.6" fill="#fff" stroke="#d41a1e" stroke-width="1.9"/>
<path d="M843.5,136.0H867.5M843.5,132.3v7.4M867.5,132.3v7.4M855.5,128.0V144.0M851.8,128.0h7.4M851.8,144.0h7.4" fill="none" stroke="#d41a1e" stroke-width="1.9"/>
<path d="M844.7,144.0H884.7M844.7,140.3v7.4M884.7,140.3v7.4M864.7,136.0V152.0M861.0,136.0h7.4M861.0,152.0h7.4" fill="none" stroke="#d41a1e" stroke-width="1.9"/>
<path d="M882.0,137.5H906.0M882.0,133.8v7.4M906.0,133.8v7.4M894.0,129.5V145.5M890.3,129.5h7.4M890.3,145.5h7.4" fill="none" stroke="#d41a1e" stroke-width="1.9"/>
<path d="M843.6,152.0H925.6M843.6,148.3v7.4M925.6,148.3v7.4M884.6,136.5V167.5M880.9,136.5h7.4M880.9,167.5h7.4" fill="none" stroke="#d41a1e" stroke-width="1.9"/>
<path d="M912.5,134.5H928.5M912.5,130.8v7.4M928.5,130.8v7.4M920.5,126.5V142.5M916.8,126.5h7.4M916.8,142.5h7.4" fill="none" stroke="#d41a1e" stroke-width="1.9"/>
<path d="M943.3,131.5H987.3M943.3,127.8v7.4M987.3,127.8v7.4M965.3,123.5V139.5M961.6,123.5h7.4M961.6,139.5h7.4" fill="none" stroke="#d41a1e" stroke-width="1.9"/>
<path d="M951.8,135.5H1001.8M951.8,131.8v7.4M1001.8,131.8v7.4M976.8,126.5V144.5M973.1,126.5h7.4M973.1,144.5h7.4" fill="none" stroke="#d41a1e" stroke-width="1.9"/>
<path d="M973.0,133.5H1001.0M973.0,129.8v7.4M1001.0,129.8v7.4M987.0,124.5V142.5M983.3,124.5h7.4M983.3,142.5h7.4" fill="none" stroke="#d41a1e" stroke-width="1.9"/>
<path d="M1013.3,126.5H1046.3M1013.3,122.8v7.4M1046.3,122.8v7.4M1029.8,118.5V134.5M1026.1,118.5h7.4M1026.1,134.5h7.4" fill="none" stroke="#d41a1e" stroke-width="1.9"/>
<path d="M1053.8,120.0H1109.8M1053.8,116.3v7.4M1109.8,116.3v7.4M1081.8,108.0V132.0M1078.1,108.0h7.4M1078.1,132.0h7.4" fill="none" stroke="#d41a1e" stroke-width="1.9"/>
<path d="M1073.4,125.7H1135.4M1073.4,122.0v7.4M1135.4,122.0v7.4M1104.4,116.7V134.7M1100.7,116.7h7.4M1100.7,134.7h7.4" fill="none" stroke="#d41a1e" stroke-width="1.9"/>
<path d="M1106.0,123.0H1198.0M1106.0,119.3v7.4M1198.0,119.3v7.4M1152.0,114.0V132.0M1148.3,114.0h7.4M1148.3,132.0h7.4" fill="none" stroke="#d41a1e" stroke-width="1.9"/>
<path d="M855.50,125.55L864.55,141.22L846.45,141.22Z" fill="#fff" stroke="#d41a1e" stroke-width="1.9"/>
<path d="M864.70,133.55L873.75,149.22L855.65,149.22Z" fill="#fff" stroke="#d41a1e" stroke-width="1.9"/>
<path d="M894.00,127.05L903.05,142.72L884.95,142.72Z" fill="#fff" stroke="#d41a1e" stroke-width="1.9"/>
<path d="M884.60,141.55L893.65,157.22L875.55,157.22Z" fill="#fff" stroke="#d41a1e" stroke-width="1.9"/>
<path d="M920.50,124.05L929.55,139.72L911.45,139.72Z" fill="#fff" stroke="#d41a1e" stroke-width="1.9"/>
<path d="M965.30,121.05L974.35,136.72L956.25,136.72Z" fill="#fff" stroke="#d41a1e" stroke-width="1.9"/>
<path d="M976.80,125.05L985.85,140.72L967.75,140.72Z" fill="#fff" stroke="#d41a1e" stroke-width="1.9"/>
<path d="M987.00,123.05L996.05,138.72L977.95,138.72Z" fill="#fff" stroke="#d41a1e" stroke-width="1.9"/>
<path d="M1029.80,116.05L1038.85,131.72L1020.75,131.72Z" fill="#fff" stroke="#d41a1e" stroke-width="1.9"/>
<path d="M1081.80,109.55L1090.85,125.22L1072.75,125.22Z" fill="#fff" stroke="#d41a1e" stroke-width="1.9"/>
<path d="M1104.40,115.25L1113.45,130.93L1095.35,130.93Z" fill="#fff" stroke="#d41a1e" stroke-width="1.9"/>
<path d="M1152.00,112.55L1161.05,128.22L1142.95,128.22Z" fill="#fff" stroke="#d41a1e" stroke-width="1.9"/>
<path d="M1120.8,138.4H1136.8M1120.8,134.7v7.4M1136.8,134.7v7.4M1128.8,130.4V146.4M1125.1,130.4h7.4M1125.1,146.4h7.4" fill="none" stroke="#1e8214" stroke-width="1.9"/>
<path d="M1130.7,139.5H1146.7M1130.7,135.8v7.4M1146.7,135.8v7.4M1138.7,131.5V147.5M1135.0,131.5h7.4M1135.0,147.5h7.4" fill="none" stroke="#1e8214" stroke-width="1.9"/>
<path d="M1151.2,136.3H1167.2M1151.2,132.6v7.4M1167.2,132.6v7.4M1159.2,128.3V144.3M1155.5,128.3h7.4M1155.5,144.3h7.4" fill="none" stroke="#1e8214" stroke-width="1.9"/>
<path d="M1179.2,140.5H1199.2M1179.2,136.8v7.4M1199.2,136.8v7.4M1189.2,131.5V149.5M1185.5,131.5h7.4M1185.5,149.5h7.4" fill="none" stroke="#1e8214" stroke-width="1.9"/>
<path d="M1232.6,140.0H1256.6M1232.6,136.3v7.4M1256.6,136.3v7.4M1244.6,131.0V149.0M1240.9,131.0h7.4M1240.9,149.0h7.4" fill="none" stroke="#1e8214" stroke-width="1.9"/>
<circle cx="1128.80" cy="138.40" r="7.7" fill="#fff" stroke="#1e8214" stroke-width="1.9"/>
<circle cx="1138.70" cy="139.50" r="7.7" fill="#fff" stroke="#1e8214" stroke-width="1.9"/>
<circle cx="1159.20" cy="136.30" r="7.7" fill="#fff" stroke="#1e8214" stroke-width="1.9"/>
<circle cx="1189.20" cy="140.50" r="7.7" fill="#fff" stroke="#1e8214" stroke-width="1.9"/>
<circle cx="1244.60" cy="140.00" r="7.7" fill="#fff" stroke="#1e8214" stroke-width="1.9"/>
<path d="M1054.5,144.0H1078.5M1054.5,140.3v7.4M1078.5,140.3v7.4M1066.5,134.0V154.0M1062.8,134.0h7.4M1062.8,154.0h7.4" fill="none" stroke="#1e8214" stroke-width="1.9"/>
<path d="M1060.0,146.0H1076.0M1060.0,142.3v7.4M1076.0,142.3v7.4M1068.0,137.0V155.0M1064.3,137.0h7.4M1064.3,155.0h7.4" fill="none" stroke="#1e8214" stroke-width="1.9"/>
<path d="M1064.7,145.8H1084.7M1064.7,142.1v7.4M1084.7,142.1v7.4M1074.7,129.8V161.8M1071.0,129.8h7.4M1071.0,161.8h7.4" fill="none" stroke="#1e8214" stroke-width="1.9"/>
<path d="M1080.3,144.7H1096.3M1080.3,141.0v7.4M1096.3,141.0v7.4M1088.3,135.7V153.7M1084.6,135.7h7.4M1084.6,153.7h7.4" fill="none" stroke="#1e8214" stroke-width="1.9"/>
<path d="M1089.0,146.0H1105.0M1089.0,142.3v7.4M1105.0,142.3v7.4M1097.0,138.0V154.0M1093.3,138.0h7.4M1093.3,154.0h7.4" fill="none" stroke="#1e8214" stroke-width="1.9"/>
<path d="M1103.9,144.7H1119.9M1103.9,141.0v7.4M1119.9,141.0v7.4M1111.9,133.7V155.7M1108.2,133.7h7.4M1108.2,155.7h7.4" fill="none" stroke="#1e8214" stroke-width="1.9"/>
<path d="M1162.6,145.5H1182.6M1162.6,141.8v7.4M1182.6,141.8v7.4M1172.6,135.0V156.0M1168.9,135.0h7.4M1168.9,156.0h7.4" fill="none" stroke="#1e8214" stroke-width="1.9"/>
<path d="M1176.4,142.0H1200.4M1176.4,138.3v7.4M1200.4,138.3v7.4M1188.4,133.0V151.0M1184.7,133.0h7.4M1184.7,151.0h7.4" fill="none" stroke="#1e8214" stroke-width="1.9"/>
<path d="M1207.3,145.3H1257.3M1207.3,141.6v7.4M1257.3,141.6v7.4M1232.3,135.3V155.3M1228.6,135.3h7.4M1228.6,155.3h7.4" fill="none" stroke="#1e8214" stroke-width="1.9"/>
<path d="M1331.7,145.3H1360.9M1331.7,141.6v7.4M1360.9,141.6v7.4M1346.3,135.4V155.2M1342.6,135.4h7.4M1342.6,155.2h7.4" fill="none" stroke="#1e8214" stroke-width="1.9"/>
<rect x="1060.70" y="138.20" width="11.6" height="11.6" fill="#fff" stroke="#1e8214" stroke-width="1.9"/>
<rect x="1062.20" y="140.20" width="11.6" height="11.6" fill="#fff" stroke="#1e8214" stroke-width="1.9"/>
<rect x="1068.90" y="140.00" width="11.6" height="11.6" fill="#fff" stroke="#1e8214" stroke-width="1.9"/>
<rect x="1082.50" y="138.90" width="11.6" height="11.6" fill="#fff" stroke="#1e8214" stroke-width="1.9"/>
<rect x="1091.20" y="140.20" width="11.6" height="11.6" fill="#fff" stroke="#1e8214" stroke-width="1.9"/>
<rect x="1106.10" y="138.90" width="11.6" height="11.6" fill="#fff" stroke="#1e8214" stroke-width="1.9"/>
<rect x="1166.80" y="139.70" width="11.6" height="11.6" fill="#fff" stroke="#1e8214" stroke-width="1.9"/>
<rect x="1182.60" y="136.20" width="11.6" height="11.6" fill="#fff" stroke="#1e8214" stroke-width="1.9"/>
<rect x="1226.50" y="139.50" width="11.6" height="11.6" fill="#fff" stroke="#1e8214" stroke-width="1.9"/>
<rect x="1340.50" y="139.50" width="11.6" height="11.6" fill="#fff" stroke="#1e8214" stroke-width="1.9"/>
<path d="M843.5,146.0H867.5M843.5,142.3v7.4M867.5,142.3v7.4M855.5,138.0V154.0M851.8,138.0h7.4M851.8,154.0h7.4" fill="none" stroke="#1e8214" stroke-width="1.9"/>
<path d="M844.7,153.0H884.7M844.7,149.3v7.4M884.7,149.3v7.4M864.7,145.0V161.0M861.0,145.0h7.4M861.0,161.0h7.4" fill="none" stroke="#1e8214" stroke-width="1.9"/>
<path d="M882.0,146.0H906.0M882.0,142.3v7.4M906.0,142.3v7.4M894.0,138.0V154.0M890.3,138.0h7.4M890.3,154.0h7.4" fill="none" stroke="#1e8214" stroke-width="1.9"/>
<path d="M843.6,158.0H925.6M843.6,154.3v7.4M925.6,154.3v7.4M884.6,142.5V173.5M880.9,142.5h7.4M880.9,173.5h7.4" fill="none" stroke="#1e8214" stroke-width="1.9"/>
<path d="M912.5,146.5H928.5M912.5,142.8v7.4M928.5,142.8v7.4M920.5,138.5V154.5M916.8,138.5h7.4M916.8,154.5h7.4" fill="none" stroke="#1e8214" stroke-width="1.9"/>
<path d="M943.3,140.0H987.3M943.3,136.3v7.4M987.3,136.3v7.4M965.3,132.0V148.0M961.6,132.0h7.4M961.6,148.0h7.4" fill="none" stroke="#1e8214" stroke-width="1.9"/>
<path d="M951.8,137.5H1001.8M951.8,133.8v7.4M1001.8,133.8v7.4M976.8,128.5V146.5M973.1,128.5h7.4M973.1,146.5h7.4" fill="none" stroke="#1e8214" stroke-width="1.9"/>
<path d="M973.0,141.5H1001.0M973.0,137.8v7.4M1001.0,137.8v7.4M987.0,132.5V150.5M983.3,132.5h7.4M983.3,150.5h7.4" fill="none" stroke="#1e8214" stroke-width="1.9"/>
<path d="M1013.3,136.5H1046.3M1013.3,132.8v7.4M1046.3,132.8v7.4M1029.8,128.5V144.5M1026.1,128.5h7.4M1026.1,144.5h7.4" fill="none" stroke="#1e8214" stroke-width="1.9"/>
<path d="M1053.8,128.5H1109.8M1053.8,124.8v7.4M1109.8,124.8v7.4M1081.8,116.5V140.5M1078.1,116.5h7.4M1078.1,140.5h7.4" fill="none" stroke="#1e8214" stroke-width="1.9"/>
<path d="M1073.4,134.0H1135.4M1073.4,130.3v7.4M1135.4,130.3v7.4M1104.4,125.0V143.0M1100.7,125.0h7.4M1100.7,143.0h7.4" fill="none" stroke="#1e8214" stroke-width="1.9"/>
<path d="M1106.0,128.0H1198.0M1106.0,124.3v7.4M1198.0,124.3v7.4M1152.0,119.0V137.0M1148.3,119.0h7.4M1148.3,137.0h7.4" fill="none" stroke="#1e8214" stroke-width="1.9"/>
<path d="M855.50,135.55L864.55,151.22L846.45,151.22Z" fill="#fff" stroke="#1e8214" stroke-width="1.9"/>
<path d="M864.70,142.55L873.75,158.22L855.65,158.22Z" fill="#fff" stroke="#1e8214" stroke-width="1.9"/>
<path d="M894.00,135.55L903.05,151.22L884.95,151.22Z" fill="#fff" stroke="#1e8214" stroke-width="1.9"/>
<path d="M884.60,147.55L893.65,163.22L875.55,163.22Z" fill="#fff" stroke="#1e8214" stroke-width="1.9"/>
<path d="M920.50,136.05L929.55,151.72L911.45,151.72Z" fill="#fff" stroke="#1e8214" stroke-width="1.9"/>
<path d="M965.30,129.55L974.35,145.22L956.25,145.22Z" fill="#fff" stroke="#1e8214" stroke-width="1.9"/>
<path d="M976.80,127.05L985.85,142.72L967.75,142.72Z" fill="#fff" stroke="#1e8214" stroke-width="1.9"/>
<path d="M987.00,131.05L996.05,146.72L977.95,146.72Z" fill="#fff" stroke="#1e8214" stroke-width="1.9"/>
<path d="M1029.80,126.05L1038.85,141.72L1020.75,141.72Z" fill="#fff" stroke="#1e8214" stroke-width="1.9"/>
<path d="M1081.80,118.05L1090.85,133.72L1072.75,133.72Z" fill="#fff" stroke="#1e8214" stroke-width="1.9"/>
<path d="M1104.40,123.55L1113.45,139.22L1095.35,139.22Z" fill="#fff" stroke="#1e8214" stroke-width="1.9"/>
<path d="M1152.00,117.55L1161.05,133.22L1142.95,133.22Z" fill="#fff" stroke="#1e8214" stroke-width="1.9"/>
</g>
<rect x="869.3" y="276.1" width="256.10000000000014" height="144.89999999999998" fill="#fff" stroke="none"/>
<clipPath id="ci"><rect x="869.3" y="276.1" width="256.10000000000014" height="144.89999999999998"/></clipPath>
<g clip-path="url(#ci)">
<path d="M995.8,356.0H1002.5M995.8,353.7v4.6M1002.5,353.7v4.6M999.1,351.0V361.0M996.8,351.0h4.6M996.8,361.0h4.6" fill="none" stroke="#1e42a2" stroke-width="1.35"/>
<path d="M999.9,357.0H1006.6M999.9,354.7v4.6M1006.6,354.7v4.6M1003.3,352.0V362.0M1001.0,352.0h4.6M1001.0,362.0h4.6" fill="none" stroke="#1e42a2" stroke-width="1.35"/>
<path d="M1008.5,358.0H1015.2M1008.5,355.7v4.6M1015.2,355.7v4.6M1011.9,353.0V363.0M1009.6,353.0h4.6M1009.6,363.0h4.6" fill="none" stroke="#1e42a2" stroke-width="1.35"/>
<path d="M1020.3,358.9H1028.7M1020.3,356.6v4.6M1028.7,356.6v4.6M1024.5,353.9V363.9M1022.2,353.9h4.6M1022.2,363.9h4.6" fill="none" stroke="#1e42a2" stroke-width="1.35"/>
<path d="M1042.7,366.6H1052.8M1042.7,364.3v4.6M1052.8,364.3v4.6M1047.7,361.6V371.6M1045.4,361.6h4.6M1045.4,371.6h4.6" fill="none" stroke="#1e42a2" stroke-width="1.35"/>
<circle cx="999.11" cy="356.00" r="5.4" fill="#fff" stroke="#1e42a2" stroke-width="1.35"/>
<circle cx="1003.27" cy="357.00" r="5.4" fill="#fff" stroke="#1e42a2" stroke-width="1.35"/>
<circle cx="1011.87" cy="358.00" r="5.4" fill="#fff" stroke="#1e42a2" stroke-width="1.35"/>
<circle cx="1024.46" cy="358.90" r="5.4" fill="#fff" stroke="#1e42a2" stroke-width="1.35"/>
<circle cx="1047.71" cy="366.60" r="5.4" fill="#fff" stroke="#1e42a2" stroke-width="1.35"/>
<path d="M967.9,354.0H978.0M967.9,351.7v4.6M978.0,351.7v4.6M973.0,349.0V359.0M970.7,349.0h4.6M970.7,359.0h4.6" fill="none" stroke="#1e42a2" stroke-width="1.35"/>
<path d="M970.2,356.0H977.0M970.2,353.7v4.6M977.0,353.7v4.6M973.6,351.0V361.0M971.3,351.0h4.6M971.3,361.0h4.6" fill="none" stroke="#1e42a2" stroke-width="1.35"/>
<path d="M972.2,354.0H980.6M972.2,351.7v4.6M980.6,351.7v4.6M976.4,349.0V359.0M974.1,349.0h4.6M974.1,359.0h4.6" fill="none" stroke="#1e42a2" stroke-width="1.35"/>
<path d="M978.8,355.0H985.5M978.8,352.7v4.6M985.5,352.7v4.6M982.1,350.0V360.0M979.8,350.0h4.6M979.8,360.0h4.6" fill="none" stroke="#1e42a2" stroke-width="1.35"/>
<path d="M982.4,355.0H989.1M982.4,352.7v4.6M989.1,352.7v4.6M985.8,350.0V360.0M983.5,350.0h4.6M983.5,360.0h4.6" fill="none" stroke="#1e42a2" stroke-width="1.35"/>
<path d="M988.7,357.0H995.4M988.7,354.7v4.6M995.4,354.7v4.6M992.0,352.0V362.0M989.7,352.0h4.6M989.7,362.0h4.6" fill="none" stroke="#1e42a2" stroke-width="1.35"/>
<path d="M1013.3,360.0H1021.7M1013.3,357.7v4.6M1021.7,357.7v4.6M1017.5,355.0V365.0M1015.2,355.0h4.6M1015.2,365.0h4.6" fill="none" stroke="#1e42a2" stroke-width="1.35"/>
<path d="M1019.1,359.0H1029.2M1019.1,356.7v4.6M1029.2,356.7v4.6M1024.1,354.0V364.0M1021.8,354.0h4.6M1021.8,364.0h4.6" fill="none" stroke="#1e42a2" stroke-width="1.35"/>
<path d="M1032.1,362.1H1053.1M1032.1,359.8v4.6M1053.1,359.8v4.6M1042.6,357.1V367.1M1040.3,357.1h4.6M1040.3,367.1h4.6" fill="none" stroke="#1e42a2" stroke-width="1.35"/>
<path d="M1084.3,374.2H1096.5M1084.3,371.9v4.6M1096.5,371.9v4.6M1090.4,369.2V379.2M1088.1,369.2h4.6M1088.1,379.2h4.6" fill="none" stroke="#1e42a2" stroke-width="1.35"/>
<rect x="968.67" y="349.70" width="8.6" height="8.6" fill="#fff" stroke="#1e42a2" stroke-width="1.35"/>
<rect x="969.30" y="351.70" width="8.6" height="8.6" fill="#fff" stroke="#1e42a2" stroke-width="1.35"/>
<rect x="972.11" y="349.70" width="8.6" height="8.6" fill="#fff" stroke="#1e42a2" stroke-width="1.35"/>
<rect x="977.81" y="350.70" width="8.6" height="8.6" fill="#fff" stroke="#1e42a2" stroke-width="1.35"/>
<rect x="981.47" y="350.70" width="8.6" height="8.6" fill="#fff" stroke="#1e42a2" stroke-width="1.35"/>
<rect x="987.72" y="352.70" width="8.6" height="8.6" fill="#fff" stroke="#1e42a2" stroke-width="1.35"/>
<rect x="1013.20" y="355.70" width="8.6" height="8.6" fill="#fff" stroke="#1e42a2" stroke-width="1.35"/>
<rect x="1019.83" y="354.70" width="8.6" height="8.6" fill="#fff" stroke="#1e42a2" stroke-width="1.35"/>
<rect x="1038.25" y="357.80" width="8.6" height="8.6" fill="#fff" stroke="#1e42a2" stroke-width="1.35"/>
<rect x="1086.10" y="369.90" width="8.6" height="8.6" fill="#fff" stroke="#1e42a2" stroke-width="1.35"/>
<path d="M879.4,341.7H889.4M879.4,339.4v4.6M889.4,339.4v4.6M884.4,336.7V346.7M882.1,336.7h4.6M882.1,346.7h4.6" fill="none" stroke="#1e42a2" stroke-width="1.35"/>
<path d="M879.9,344.3H896.7M879.9,342.0v4.6M896.7,342.0v4.6M888.3,339.3V349.3M886.0,339.3h4.6M886.0,349.3h4.6" fill="none" stroke="#1e42a2" stroke-width="1.35"/>
<path d="M895.5,344.8H905.6M895.5,342.5v4.6M905.6,342.5v4.6M900.6,339.8V349.8M898.3,339.8h4.6M898.3,349.8h4.6" fill="none" stroke="#1e42a2" stroke-width="1.35"/>
<path d="M879.4,351.7H913.8M879.4,349.4v4.6M913.8,349.4v4.6M896.6,346.7V356.7M894.3,346.7h4.6M894.3,356.7h4.6" fill="none" stroke="#1e42a2" stroke-width="1.35"/>
<path d="M908.3,345.4H915.0M908.3,343.1v4.6M915.0,343.1v4.6M911.7,340.4V350.4M909.4,340.4h4.6M909.4,350.4h4.6" fill="none" stroke="#1e42a2" stroke-width="1.35"/>
<path d="M921.3,342.2H939.7M921.3,339.9v4.6M939.7,339.9v4.6M930.5,337.2V347.2M928.2,337.2h4.6M928.2,347.2h4.6" fill="none" stroke="#1e42a2" stroke-width="1.35"/>
<path d="M924.8,344.8H945.8M924.8,342.5v4.6M945.8,342.5v4.6M935.3,339.8V349.8M933.0,339.8h4.6M933.0,349.8h4.6" fill="none" stroke="#1e42a2" stroke-width="1.35"/>
<path d="M933.7,347.5H945.5M933.7,345.2v4.6M945.5,345.2v4.6M939.6,342.5V352.5M937.3,342.5h4.6M937.3,352.5h4.6" fill="none" stroke="#1e42a2" stroke-width="1.35"/>
<path d="M950.6,345.4H964.5M950.6,343.1v4.6M964.5,343.1v4.6M957.6,340.4V350.4M955.3,340.4h4.6M955.3,350.4h4.6" fill="none" stroke="#1e42a2" stroke-width="1.35"/>
<path d="M967.6,348.6H991.1M967.6,346.3v4.6M991.1,346.3v4.6M979.4,343.6V353.6M977.1,343.6h4.6M977.1,353.6h4.6" fill="none" stroke="#1e42a2" stroke-width="1.35"/>
<path d="M975.9,349.3H1001.9M975.9,347.0v4.6M1001.9,347.0v4.6M988.9,344.3V354.3M986.6,344.3h4.6M986.6,354.3h4.6" fill="none" stroke="#1e42a2" stroke-width="1.35"/>
<path d="M989.5,353.6H1028.2M989.5,351.3v4.6M1028.2,351.3v4.6M1008.8,348.6V358.6M1006.5,348.6h4.6M1006.5,358.6h4.6" fill="none" stroke="#1e42a2" stroke-width="1.35"/>
<path d="M884.41,334.10L890.99,345.50L877.83,345.50Z" fill="#fff" stroke="#1e42a2" stroke-width="1.35"/>
<path d="M888.27,336.70L894.85,348.10L881.69,348.10Z" fill="#fff" stroke="#1e42a2" stroke-width="1.35"/>
<path d="M900.57,337.20L907.15,348.60L893.99,348.60Z" fill="#fff" stroke="#1e42a2" stroke-width="1.35"/>
<path d="M896.62,344.10L903.20,355.50L890.04,355.50Z" fill="#fff" stroke="#1e42a2" stroke-width="1.35"/>
<path d="M911.69,337.80L918.27,349.20L905.11,349.20Z" fill="#fff" stroke="#1e42a2" stroke-width="1.35"/>
<path d="M930.49,334.60L937.07,346.00L923.91,346.00Z" fill="#fff" stroke="#1e42a2" stroke-width="1.35"/>
<path d="M935.32,337.20L941.90,348.60L928.74,348.60Z" fill="#fff" stroke="#1e42a2" stroke-width="1.35"/>
<path d="M939.60,339.90L946.18,351.30L933.02,351.30Z" fill="#fff" stroke="#1e42a2" stroke-width="1.35"/>
<path d="M957.56,337.80L964.14,349.20L950.98,349.20Z" fill="#fff" stroke="#1e42a2" stroke-width="1.35"/>
<path d="M979.39,341.00L985.97,352.40L972.81,352.40Z" fill="#fff" stroke="#1e42a2" stroke-width="1.35"/>
<path d="M988.87,341.70L995.45,353.10L982.29,353.10Z" fill="#fff" stroke="#1e42a2" stroke-width="1.35"/>
<path d="M1008.85,346.00L1015.43,357.40L1002.27,357.40Z" fill="#fff" stroke="#1e42a2" stroke-width="1.35"/>
<path d="M995.8,326.0H1002.5M995.8,323.7v4.6M1002.5,323.7v4.6M999.1,321.0V331.0M996.8,321.0h4.6M996.8,331.0h4.6" fill="none" stroke="#d41a1e" stroke-width="1.35"/>
<path d="M999.9,326.0H1006.6M999.9,323.7v4.6M1006.6,323.7v4.6M1003.3,321.0V331.0M1001.0,321.0h4.6M1001.0,331.0h4.6" fill="none" stroke="#d41a1e" stroke-width="1.35"/>
<path d="M1008.5,327.0H1015.2M1008.5,324.7v4.6M1015.2,324.7v4.6M1011.9,322.0V332.0M1009.6,322.0h4.6M1009.6,332.0h4.6" fill="none" stroke="#d41a1e" stroke-width="1.35"/>
<path d="M1020.3,326.6H1028.7M1020.3,324.3v4.6M1028.7,324.3v4.6M1024.5,321.6V331.6M1022.2,321.6h4.6M1022.2,331.6h4.6" fill="none" stroke="#d41a1e" stroke-width="1.35"/>
<path d="M1042.7,325.2H1052.8M1042.7,322.9v4.6M1052.8,322.9v4.6M1047.7,320.2V330.2M1045.4,320.2h4.6M1045.4,330.2h4.6" fill="none" stroke="#d41a1e" stroke-width="1.35"/>
<circle cx="999.11" cy="326.00" r="5.4" fill="#fff" stroke="#d41a1e" stroke-width="1.35"/>
<circle cx="1003.27" cy="326.00" r="5.4" fill="#fff" stroke="#d41a1e" stroke-width="1.35"/>
<circle cx="1011.87" cy="327.00" r="5.4" fill="#fff" stroke="#d41a1e" stroke-width="1.35"/>
<circle cx="1024.46" cy="326.60" r="5.4" fill="#fff" stroke="#d41a1e" stroke-width="1.35"/>
<circle cx="1047.71" cy="325.20" r="5.4" fill="#fff" stroke="#d41a1e" stroke-width="1.35"/>
<path d="M967.9,326.0H978.0M967.9,323.7v4.6M978.0,323.7v4.6M973.0,321.0V331.0M970.7,321.0h4.6M970.7,331.0h4.6" fill="none" stroke="#d41a1e" stroke-width="1.35"/>
<path d="M970.2,328.0H977.0M970.2,325.7v4.6M977.0,325.7v4.6M973.6,323.0V333.0M971.3,323.0h4.6M971.3,333.0h4.6" fill="none" stroke="#d41a1e" stroke-width="1.35"/>
<path d="M972.2,327.0H980.6M972.2,324.7v4.6M980.6,324.7v4.6M976.4,322.0V332.0M974.1,322.0h4.6M974.1,332.0h4.6" fill="none" stroke="#d41a1e" stroke-width="1.35"/>
<path d="M978.8,328.0H985.5M978.8,325.7v4.6M985.5,325.7v4.6M982.1,323.0V333.0M979.8,323.0h4.6M979.8,333.0h4.6" fill="none" stroke="#d41a1e" stroke-width="1.35"/>
<path d="M982.4,327.0H989.1M982.4,324.7v4.6M989.1,324.7v4.6M985.8,322.0V332.0M983.5,322.0h4.6M983.5,332.0h4.6" fill="none" stroke="#d41a1e" stroke-width="1.35"/>
<path d="M988.7,328.0H995.4M988.7,325.7v4.6M995.4,325.7v4.6M992.0,323.0V333.0M989.7,323.0h4.6M989.7,333.0h4.6" fill="none" stroke="#d41a1e" stroke-width="1.35"/>
<path d="M1013.3,326.0H1021.7M1013.3,323.7v4.6M1021.7,323.7v4.6M1017.5,321.0V331.0M1015.2,321.0h4.6M1015.2,331.0h4.6" fill="none" stroke="#d41a1e" stroke-width="1.35"/>
<path d="M1019.1,325.0H1029.2M1019.1,322.7v4.6M1029.2,322.7v4.6M1024.1,320.0V330.0M1021.8,320.0h4.6M1021.8,330.0h4.6" fill="none" stroke="#d41a1e" stroke-width="1.35"/>
<path d="M1032.1,330.0H1053.1M1032.1,327.7v4.6M1053.1,327.7v4.6M1042.6,325.0V335.0M1040.3,325.0h4.6M1040.3,335.0h4.6" fill="none" stroke="#d41a1e" stroke-width="1.35"/>
<path d="M1084.3,331.6H1096.5M1084.3,329.3v4.6M1096.5,329.3v4.6M1090.4,324.6V338.6M1088.1,324.6h4.6M1088.1,338.6h4.6" fill="none" stroke="#d41a1e" stroke-width="1.35"/>
<rect x="968.67" y="321.70" width="8.6" height="8.6" fill="#fff" stroke="#d41a1e" stroke-width="1.35"/>
<rect x="969.30" y="323.70" width="8.6" height="8.6" fill="#fff" stroke="#d41a1e" stroke-width="1.35"/>
<rect x="972.11" y="322.70" width="8.6" height="8.6" fill="#fff" stroke="#d41a1e" stroke-width="1.35"/>
<rect x="977.81" y="323.70" width="8.6" height="8.6" fill="#fff" stroke="#d41a1e" stroke-width="1.35"/>
<rect x="981.47" y="322.70" width="8.6" height="8.6" fill="#fff" stroke="#d41a1e" stroke-width="1.35"/>
<rect x="987.72" y="323.70" width="8.6" height="8.6" fill="#fff" stroke="#d41a1e" stroke-width="1.35"/>
<rect x="1013.20" y="321.70" width="8.6" height="8.6" fill="#fff" stroke="#d41a1e" stroke-width="1.35"/>
<rect x="1019.83" y="320.70" width="8.6" height="8.6" fill="#fff" stroke="#d41a1e" stroke-width="1.35"/>
<rect x="1038.25" y="325.70" width="8.6" height="8.6" fill="#fff" stroke="#d41a1e" stroke-width="1.35"/>
<rect x="1086.10" y="327.30" width="8.6" height="8.6" fill="#fff" stroke="#d41a1e" stroke-width="1.35"/>
<path d="M879.4,326.0H889.4M879.4,323.7v4.6M889.4,323.7v4.6M884.4,321.0V331.0M882.1,321.0h4.6M882.1,331.0h4.6" fill="none" stroke="#d41a1e" stroke-width="1.35"/>
<path d="M879.9,327.0H896.7M879.9,324.7v4.6M896.7,324.7v4.6M888.3,322.0V332.0M886.0,322.0h4.6M886.0,332.0h4.6" fill="none" stroke="#d41a1e" stroke-width="1.35"/>
<path d="M895.5,326.0H905.6M895.5,323.7v4.6M905.6,323.7v4.6M900.6,321.0V331.0M898.3,321.0h4.6M898.3,331.0h4.6" fill="none" stroke="#d41a1e" stroke-width="1.35"/>
<path d="M879.4,330.0H913.8M879.4,327.7v4.6M913.8,327.7v4.6M896.6,325.0V335.0M894.3,325.0h4.6M894.3,335.0h4.6" fill="none" stroke="#d41a1e" stroke-width="1.35"/>
<path d="M908.3,328.0H915.0M908.3,325.7v4.6M915.0,325.7v4.6M911.7,323.0V333.0M909.4,323.0h4.6M909.4,333.0h4.6" fill="none" stroke="#d41a1e" stroke-width="1.35"/>
<path d="M921.3,326.5H939.7M921.3,324.2v4.6M939.7,324.2v4.6M930.5,321.5V331.5M928.2,321.5h4.6M928.2,331.5h4.6" fill="none" stroke="#d41a1e" stroke-width="1.35"/>
<path d="M924.8,325.5H945.8M924.8,323.2v4.6M945.8,323.2v4.6M935.3,320.5V330.5M933.0,320.5h4.6M933.0,330.5h4.6" fill="none" stroke="#d41a1e" stroke-width="1.35"/>
<path d="M933.7,327.0H945.5M933.7,324.7v4.6M945.5,324.7v4.6M939.6,322.0V332.0M937.3,322.0h4.6M937.3,332.0h4.6" fill="none" stroke="#d41a1e" stroke-width="1.35"/>
<path d="M950.6,325.5H964.5M950.6,323.2v4.6M964.5,323.2v4.6M957.6,320.5V330.5M955.3,320.5h4.6M955.3,330.5h4.6" fill="none" stroke="#d41a1e" stroke-width="1.35"/>
<path d="M967.6,327.5H991.1M967.6,325.2v4.6M991.1,325.2v4.6M979.4,322.5V332.5M977.1,322.5h4.6M977.1,332.5h4.6" fill="none" stroke="#d41a1e" stroke-width="1.35"/>
<path d="M975.9,326.0H1001.9M975.9,323.7v4.6M1001.9,323.7v4.6M988.9,321.0V331.0M986.6,321.0h4.6M986.6,331.0h4.6" fill="none" stroke="#d41a1e" stroke-width="1.35"/>
<path d="M989.5,329.0H1028.2M989.5,326.7v4.6M1028.2,326.7v4.6M1008.8,324.0V334.0M1006.5,324.0h4.6M1006.5,334.0h4.6" fill="none" stroke="#d41a1e" stroke-width="1.35"/>
<path d="M884.41,318.40L890.99,329.80L877.83,329.80Z" fill="#fff" stroke="#d41a1e" stroke-width="1.35"/>
<path d="M888.27,319.40L894.85,330.80L881.69,330.80Z" fill="#fff" stroke="#d41a1e" stroke-width="1.35"/>
<path d="M900.57,318.40L907.15,329.80L893.99,329.80Z" fill="#fff" stroke="#d41a1e" stroke-width="1.35"/>
<path d="M896.62,322.40L903.20,333.80L890.04,333.80Z" fill="#fff" stroke="#d41a1e" stroke-width="1.35"/>
<path d="M911.69,320.40L918.27,331.80L905.11,331.80Z" fill="#fff" stroke="#d41a1e" stroke-width="1.35"/>
<path d="M930.49,318.90L937.07,330.30L923.91,330.30Z" fill="#fff" stroke="#d41a1e" stroke-width="1.35"/>
<path d="M935.32,317.90L941.90,329.30L928.74,329.30Z" fill="#fff" stroke="#d41a1e" stroke-width="1.35"/>
<path d="M939.60,319.40L946.18,330.80L933.02,330.80Z" fill="#fff" stroke="#d41a1e" stroke-width="1.35"/>
<path d="M957.56,317.90L964.14,329.30L950.98,329.30Z" fill="#fff" stroke="#d41a1e" stroke-width="1.35"/>
<path d="M979.39,319.90L985.97,331.30L972.81,331.30Z" fill="#fff" stroke="#d41a1e" stroke-width="1.35"/>
<path d="M988.87,318.40L995.45,329.80L982.29,329.80Z" fill="#fff" stroke="#d41a1e" stroke-width="1.35"/>
<path d="M1008.85,321.40L1015.43,332.80L1002.27,332.80Z" fill="#fff" stroke="#d41a1e" stroke-width="1.35"/>
<path d="M995.8,316.0H1002.5M995.8,313.7v4.6M1002.5,313.7v4.6M999.1,311.0V321.0M996.8,311.0h4.6M996.8,321.0h4.6" fill="none" stroke="#1e8214" stroke-width="1.35"/>
<path d="M999.9,317.0H1006.6M999.9,314.7v4.6M1006.6,314.7v4.6M1003.3,312.0V322.0M1001.0,312.0h4.6M1001.0,322.0h4.6" fill="none" stroke="#1e8214" stroke-width="1.35"/>
<path d="M1008.5,304.8H1015.2M1008.5,302.5v4.6M1015.2,302.5v4.6M1011.9,299.8V309.8M1009.6,299.8h4.6M1009.6,309.8h4.6" fill="none" stroke="#1e8214" stroke-width="1.35"/>
<path d="M1020.3,313.3H1028.7M1020.3,311.0v4.6M1028.7,311.0v4.6M1024.5,308.3V318.3M1022.2,308.3h4.6M1022.2,318.3h4.6" fill="none" stroke="#1e8214" stroke-width="1.35"/>
<path d="M1042.7,316.0H1052.8M1042.7,313.7v4.6M1052.8,313.7v4.6M1047.7,311.0V321.0M1045.4,311.0h4.6M1045.4,321.0h4.6" fill="none" stroke="#1e8214" stroke-width="1.35"/>
<circle cx="999.11" cy="316.00" r="5.4" fill="#fff" stroke="#1e8214" stroke-width="1.35"/>
<circle cx="1003.27" cy="317.00" r="5.4" fill="#fff" stroke="#1e8214" stroke-width="1.35"/>
<circle cx="1011.87" cy="304.80" r="5.4" fill="#fff" stroke="#1e8214" stroke-width="1.35"/>
<circle cx="1024.46" cy="313.30" r="5.4" fill="#fff" stroke="#1e8214" stroke-width="1.35"/>
<circle cx="1047.71" cy="316.00" r="5.4" fill="#fff" stroke="#1e8214" stroke-width="1.35"/>
<path d="M967.9,319.6H978.0M967.9,317.3v4.6M978.0,317.3v4.6M973.0,314.6V324.6M970.7,314.6h4.6M970.7,324.6h4.6" fill="none" stroke="#1e8214" stroke-width="1.35"/>
<path d="M970.2,321.0H977.0M970.2,318.7v4.6M977.0,318.7v4.6M973.6,316.0V326.0M971.3,316.0h4.6M971.3,326.0h4.6" fill="none" stroke="#1e8214" stroke-width="1.35"/>
<path d="M972.2,319.0H980.6M972.2,316.7v4.6M980.6,316.7v4.6M976.4,314.0V324.0M974.1,314.0h4.6M974.1,324.0h4.6" fill="none" stroke="#1e8214" stroke-width="1.35"/>
<path d="M978.8,320.0H985.5M978.8,317.7v4.6M985.5,317.7v4.6M982.1,315.0V325.0M979.8,315.0h4.6M979.8,325.0h4.6" fill="none" stroke="#1e8214" stroke-width="1.35"/>
<path d="M982.4,319.0H989.1M982.4,316.7v4.6M989.1,316.7v4.6M985.8,314.0V324.0M983.5,314.0h4.6M983.5,324.0h4.6" fill="none" stroke="#1e8214" stroke-width="1.35"/>
<path d="M988.7,320.0H995.4M988.7,317.7v4.6M995.4,317.7v4.6M992.0,315.0V325.0M989.7,315.0h4.6M989.7,325.0h4.6" fill="none" stroke="#1e8214" stroke-width="1.35"/>
<path d="M1013.3,318.0H1021.7M1013.3,315.7v4.6M1021.7,315.7v4.6M1017.5,313.0V323.0M1015.2,313.0h4.6M1015.2,323.0h4.6" fill="none" stroke="#1e8214" stroke-width="1.35"/>
<path d="M1019.1,318.0H1029.2M1019.1,315.7v4.6M1029.2,315.7v4.6M1024.1,313.0V323.0M1021.8,313.0h4.6M1021.8,323.0h4.6" fill="none" stroke="#1e8214" stroke-width="1.35"/>
<path d="M1032.1,318.0H1053.1M1032.1,315.7v4.6M1053.1,315.7v4.6M1042.6,313.0V323.0M1040.3,313.0h4.6M1040.3,323.0h4.6" fill="none" stroke="#1e8214" stroke-width="1.35"/>
<path d="M1084.3,305.4H1096.5M1084.3,303.1v4.6M1096.5,303.1v4.6M1090.4,294.2V316.6M1088.1,294.2h4.6M1088.1,316.6h4.6" fill="none" stroke="#1e8214" stroke-width="1.35"/>
<rect x="968.67" y="315.30" width="8.6" height="8.6" fill="#fff" stroke="#1e8214" stroke-width="1.35"/>
<rect x="969.30" y="316.70" width="8.6" height="8.6" fill="#fff" stroke="#1e8214" stroke-width="1.35"/>
<rect x="972.11" y="314.70" width="8.6" height="8.6" fill="#fff" stroke="#1e8214" stroke-width="1.35"/>
<rect x="977.81" y="315.70" width="8.6" height="8.6" fill="#fff" stroke="#1e8214" stroke-width="1.35"/>
<rect x="981.47" y="314.70" width="8.6" height="8.6" fill="#fff" stroke="#1e8214" stroke-width="1.35"/>
<rect x="987.72" y="315.70" width="8.6" height="8.6" fill="#fff" stroke="#1e8214" stroke-width="1.35"/>
<rect x="1013.20" y="313.70" width="8.6" height="8.6" fill="#fff" stroke="#1e8214" stroke-width="1.35"/>
<rect x="1019.83" y="313.70" width="8.6" height="8.6" fill="#fff" stroke="#1e8214" stroke-width="1.35"/>
<rect x="1038.25" y="313.70" width="8.6" height="8.6" fill="#fff" stroke="#1e8214" stroke-width="1.35"/>
<rect x="1086.10" y="301.10" width="8.6" height="8.6" fill="#fff" stroke="#1e8214" stroke-width="1.35"/>
<path d="M879.4,318.0H889.4M879.4,315.7v4.6M889.4,315.7v4.6M884.4,313.0V323.0M882.1,313.0h4.6M882.1,323.0h4.6" fill="none" stroke="#1e8214" stroke-width="1.35"/>
<path d="M879.9,321.0H896.7M879.9,318.7v4.6M896.7,318.7v4.6M888.3,316.0V326.0M886.0,316.0h4.6M886.0,326.0h4.6" fill="none" stroke="#1e8214" stroke-width="1.35"/>
<path d="M895.5,317.0H905.6M895.5,314.7v4.6M905.6,314.7v4.6M900.6,312.0V322.0M898.3,312.0h4.6M898.3,322.0h4.6" fill="none" stroke="#1e8214" stroke-width="1.35"/>
<path d="M879.4,329.0H913.8M879.4,326.7v4.6M913.8,326.7v4.6M896.6,324.0V334.0M894.3,324.0h4.6M894.3,334.0h4.6" fill="none" stroke="#1e8214" stroke-width="1.35"/>
<path d="M908.3,320.6H915.0M908.3,318.3v4.6M915.0,318.3v4.6M911.7,315.6V325.6M909.4,315.6h4.6M909.4,325.6h4.6" fill="none" stroke="#1e8214" stroke-width="1.35"/>
<path d="M921.3,317.5H939.7M921.3,315.2v4.6M939.7,315.2v4.6M930.5,312.5V322.5M928.2,312.5h4.6M928.2,322.5h4.6" fill="none" stroke="#1e8214" stroke-width="1.35"/>
<path d="M924.8,314.3H945.8M924.8,312.0v4.6M945.8,312.0v4.6M935.3,309.3V319.3M933.0,309.3h4.6M933.0,319.3h4.6" fill="none" stroke="#1e8214" stroke-width="1.35"/>
<path d="M933.7,317.0H945.5M933.7,314.7v4.6M945.5,314.7v4.6M939.6,312.0V322.0M937.3,312.0h4.6M937.3,322.0h4.6" fill="none" stroke="#1e8214" stroke-width="1.35"/>
<path d="M950.6,312.2H964.5M950.6,309.9v4.6M964.5,309.9v4.6M957.6,307.2V317.2M955.3,307.2h4.6M955.3,317.2h4.6" fill="none" stroke="#1e8214" stroke-width="1.35"/>
<path d="M967.6,310.7H991.1M967.6,308.4v4.6M991.1,308.4v4.6M979.4,305.7V315.7M977.1,305.7h4.6M977.1,315.7h4.6" fill="none" stroke="#1e8214" stroke-width="1.35"/>
<path d="M975.9,309.3H1001.9M975.9,307.0v4.6M1001.9,307.0v4.6M988.9,304.3V314.3M986.6,304.3h4.6M986.6,314.3h4.6" fill="none" stroke="#1e8214" stroke-width="1.35"/>
<path d="M989.5,314.2H1028.2M989.5,311.9v4.6M1028.2,311.9v4.6M1008.8,309.2V319.2M1006.5,309.2h4.6M1006.5,319.2h4.6" fill="none" stroke="#1e8214" stroke-width="1.35"/>
<path d="M884.41,310.40L890.99,321.80L877.83,321.80Z" fill="#fff" stroke="#1e8214" stroke-width="1.35"/>
<path d="M888.27,313.40L894.85,324.80L881.69,324.80Z" fill="#fff" stroke="#1e8214" stroke-width="1.35"/>
<path d="M900.57,309.40L907.15,320.80L893.99,320.80Z" fill="#fff" stroke="#1e8214" stroke-width="1.35"/>
<path d="M896.62,321.40L903.20,332.80L890.04,332.80Z" fill="#fff" stroke="#1e8214" stroke-width="1.35"/>
<path d="M911.69,313.00L918.27,324.40L905.11,324.40Z" fill="#fff" stroke="#1e8214" stroke-width="1.35"/>
<path d="M930.49,309.90L937.07,321.30L923.91,321.30Z" fill="#fff" stroke="#1e8214" stroke-width="1.35"/>
<path d="M935.32,306.70L941.90,318.10L928.74,318.10Z" fill="#fff" stroke="#1e8214" stroke-width="1.35"/>
<path d="M939.60,309.40L946.18,320.80L933.02,320.80Z" fill="#fff" stroke="#1e8214" stroke-width="1.35"/>
<path d="M957.56,304.60L964.14,316.00L950.98,316.00Z" fill="#fff" stroke="#1e8214" stroke-width="1.35"/>
<path d="M979.39,303.10L985.97,314.50L972.81,314.50Z" fill="#fff" stroke="#1e8214" stroke-width="1.35"/>
<path d="M988.87,301.70L995.45,313.10L982.29,313.10Z" fill="#fff" stroke="#1e8214" stroke-width="1.35"/>
<path d="M1008.85,306.60L1015.43,318.00L1002.27,318.00Z" fill="#fff" stroke="#1e8214" stroke-width="1.35"/>
</g>
<rect x="869.3" y="276.1" width="256.10000000000014" height="144.89999999999998" fill="none" stroke="#111" stroke-width="1.5"/>
<path d="M971.7,421.0v-3.2M971.7,276.1v3.2M1074.2,421.0v-3.2M1074.2,276.1v3.2" stroke="#111" stroke-width="1.5" fill="none"/>
<text x="869.3" y="449" font-size="23" text-anchor="middle">4</text>
<text x="971.7" y="449" font-size="23" text-anchor="middle">5</text>
<text x="1074.2" y="449" font-size="23" text-anchor="middle">6</text>
<text x="864.3" y="429.6" font-size="23" text-anchor="end">2</text>
<text x="998.3" y="478.4" font-size="25.5" font-style="italic" text-anchor="middle">Z</text>
<text transform="translate(845.2,350.3) rotate(-90)" font-size="25" font-style="italic" text-anchor="middle">n</text>
<path d="M830.9,341.2L836.6,327.6L842.3,341.2M830.9,357.6L836.6,370.6L842.3,357.6" fill="none" stroke="#111" stroke-width="1.25"/>
<circle cx="1218" cy="399.5" r="8.15" fill="none" stroke="#1e42a2" stroke-width="1.75"/>
<rect x="1249.6" y="393.4" width="12.2" height="12.2" fill="none" stroke="#1e42a2" stroke-width="1.75"/>
<path d="M1290.3,391.7L1299.3,407.3L1281.2,407.3Z" fill="none" stroke="#1e42a2" stroke-width="1.75"/>
<text x="1312.8" y="410.2" font-size="23" letter-spacing="0.55">LCOM</text>
<circle cx="1218" cy="426.7" r="8.15" fill="none" stroke="#d41a1e" stroke-width="1.75"/>
<rect x="1249.6" y="420.6" width="12.2" height="12.2" fill="none" stroke="#d41a1e" stroke-width="1.75"/>
<path d="M1290.3,418.9L1299.3,434.5L1281.2,434.5Z" fill="none" stroke="#d41a1e" stroke-width="1.75"/>
<text x="1312.8" y="437.2" font-size="23" letter-spacing="0.55">LSQS</text>
<circle cx="1218" cy="453.9" r="8.15" fill="none" stroke="#1e8214" stroke-width="1.75"/>
<rect x="1249.6" y="447.8" width="12.2" height="12.2" fill="none" stroke="#1e8214" stroke-width="1.75"/>
<path d="M1290.3,446.1L1299.3,461.7L1281.2,461.7Z" fill="none" stroke="#1e8214" stroke-width="1.75"/>
<text x="1312.8" y="464.2" font-size="23" letter-spacing="0.55">RANDOM</text>
</svg>
</body></html>
